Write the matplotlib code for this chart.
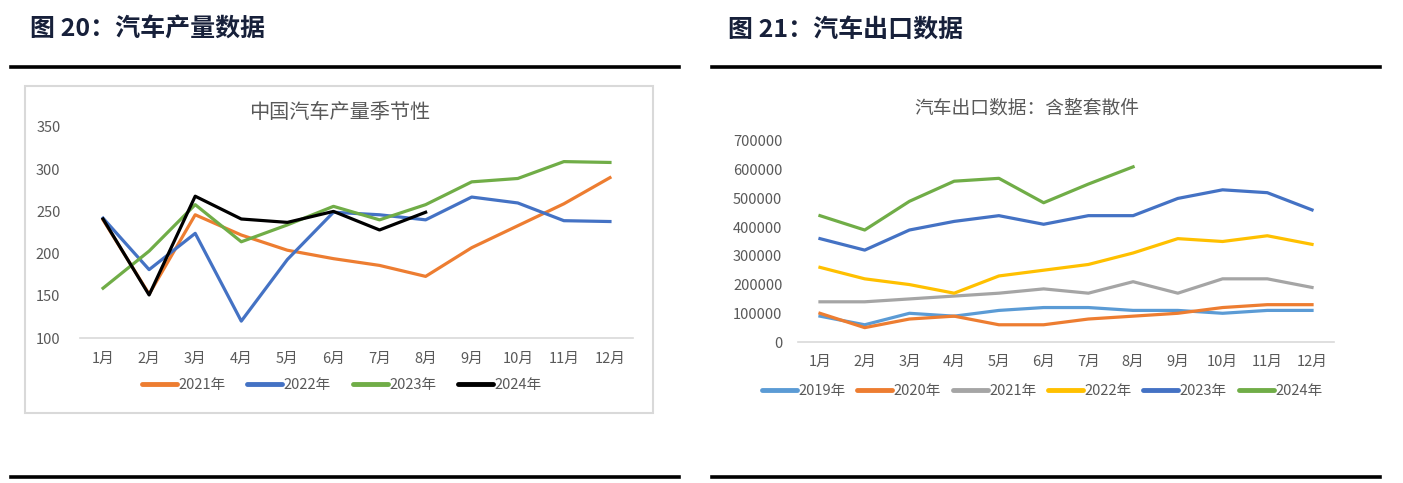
# -*- coding:utf-8 -*-
from matplotlib import pyplot as plt
from matplotlib.lines import Line2D

plt.rcParams['font.family'] = ['Noto Sans CJK SC', 'DejaVu Sans']

# 月份
months = ['1月', '2月', '3月', '4月', '5月', '6月', '7月', '8月', '9月', '10月', '11月', '12月']

# 图20 汽车产量（万辆）
prod_2021 = [240, 152, 246, 222, 204, 194, 186, 173, 207, 233, 259, 290]
prod_2022 = [242, 181, 224, 120, 193, 249, 246, 240, 267, 260, 239, 238]
prod_2023 = [159, 203, 258, 214, 234, 256, 240, 258, 285, 289, 309, 308]
prod_2024 = [241, 151, 268, 241, 237, 250, 228, 249]

# 图21 汽车出口（辆）
exp_2019 = [90000, 60000, 100000, 90000, 110000, 120000, 120000, 110000, 110000, 100000, 110000, 110000]
exp_2020 = [100000, 50000, 80000, 90000, 60000, 60000, 80000, 90000, 100000, 120000, 130000, 130000]
exp_2021 = [140000, 140000, 150000, 160000, 170000, 185000, 170000, 210000, 170000, 220000, 220000, 190000]
exp_2022 = [260000, 220000, 200000, 170000, 230000, 250000, 270000, 310000, 360000, 350000, 370000, 340000]
exp_2023 = [360000, 320000, 390000, 420000, 440000, 410000, 440000, 440000, 500000, 530000, 520000, 460000]
exp_2024 = [440000, 390000, 490000, 560000, 570000, 485000, 550000, 610000]

W, H = 1403, 483
TXT = '#595959'
HEAD = '#17203a'


def px_axes(fig, l, t, r, b):
    return fig.add_axes([l / W, 1 - b / H, (r - l) / W, (b - t) / H])


def style(ax, ypad, xpad):
    for s in ['top', 'right', 'left']:
        ax.spines[s].set_visible(False)
    ax.spines['bottom'].set_color('#d9d9d9')
    ax.spines['bottom'].set_linewidth(1.2)
    ax.tick_params(axis='both', length=0, labelsize=10.5, labelcolor=TXT)
    ax.tick_params(axis='y', pad=ypad)
    ax.tick_params(axis='x', pad=xpad)
    ax.set_xlim(0.5, 12.5)
    ax.set_xticks(range(1, 13))
    ax.set_xticklabels(months)


def add_legend(fig, ax, cx, cy, ncol, colsp):
    leg = fig.legend(handles=ax.get_lines(), loc='center', bbox_to_anchor=(cx / W, 1 - cy / H),
                     ncol=ncol, frameon=False, fontsize=10.5, handlelength=2.4,
                     handletextpad=0.1, columnspacing=colsp, labelcolor=TXT)
    for h in leg.legend_handles:
        h.set_linewidth(3.5)
        h.set_solid_capstyle('round')
    return leg


def main():
    fig = plt.figure(figsize=(W / 100, H / 100), dpi=100)

    # 标题与分隔线
    fig.text(30 / W, 1 - 30 / H, '图 20：汽车产量数据', fontsize=18, fontweight='bold',
             color=HEAD, va='center', ha='left')
    fig.text(728 / W, 1 - 30 / H, '图 21：汽车出口数据', fontsize=18, fontweight='bold',
             color=HEAD, va='center', ha='left')
    for (x0, x1) in [(11, 679), (712, 1380)]:
        for y in [67, 477]:
            fig.add_artist(Line2D([x0 / W, x1 / W], [1 - y / H, 1 - y / H],
                                  color='black', linewidth=2.6))

    # 左图外框
    fig.add_artist(plt.Rectangle((25 / W, 1 - 413 / H), (653 - 25) / W, (413 - 86) / H,
                                 fill=False, edgecolor='#d9d9d9', linewidth=1.5))

    x = list(range(1, 13))

    # 图20
    ax1 = px_axes(fig, 80, 127, 633, 338)
    ax1.plot(x, prod_2021, color='#ed7d31', linewidth=2.3, label='2021年')
    ax1.plot(x, prod_2022, color='#4472c4', linewidth=2.3, label='2022年')
    ax1.plot(x, prod_2023, color='#70ad47', linewidth=2.3, label='2023年')
    ax1.plot(x[:len(prod_2024)], prod_2024, color='black', linewidth=2.3, label='2024年')
    ax1.set_ylim(100, 350)
    ax1.set_yticks(range(100, 351, 50))
    style(ax1, 14, 10)
    fig.text(340 / W, 1 - 112 / H, '中国汽车产量季节性', fontsize=14.5, color=TXT,
             ha='center', va='center')
    add_legend(fig, ax1, 342, 385, 4, 1.5)

    # 图21
    ax2 = px_axes(fig, 797.6, 141, 1334.4, 342)
    ax2.plot(x, exp_2019, color='#5b9bd5', linewidth=2.3, label='2019年')
    ax2.plot(x, exp_2020, color='#ed7d31', linewidth=2.3, label='2020年')
    ax2.plot(x, exp_2021, color='#a5a5a5', linewidth=2.3, label='2021年')
    ax2.plot(x, exp_2022, color='#ffc000', linewidth=2.3, label='2022年')
    ax2.plot(x, exp_2023, color='#4472c4', linewidth=2.3, label='2023年')
    ax2.plot(x[:len(exp_2024)], exp_2024, color='#70ad47', linewidth=2.3, label='2024年')
    ax2.set_ylim(0, 700000)
    ax2.set_yticks(range(0, 700001, 100000))
    style(ax2, 11, 9)
    fig.text(1027 / W, 1 - 108 / H, '汽车出口数据：含整套散件', fontsize=13.5, color=TXT,
             ha='center', va='center')
    add_legend(fig, ax2, 1042, 391, 6, 0.8)

    fig.savefig('out.png', dpi=100)


if __name__ == '__main__':
    main()
